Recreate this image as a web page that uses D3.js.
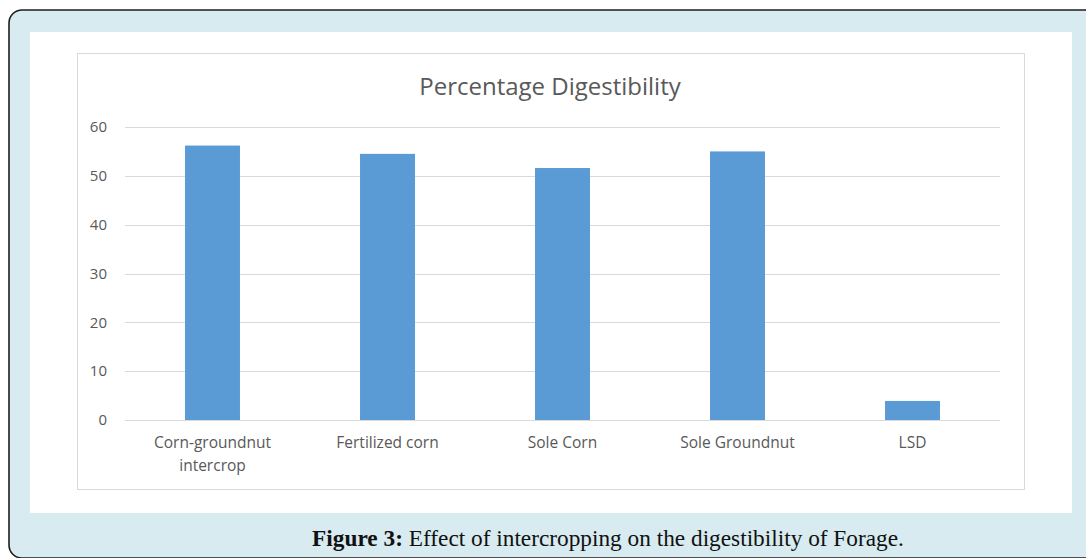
<html lang="en">
<head>
<style>
body { margin: 0; background: #fff; }
svg { display: block; }
</style>
</head>
<body>
<script src="https://d3js.org/d3.v7.min.js"></script>
<script>
// data
const categories = ["Corn-groundnut intercrop", "Fertilized corn", "Sole Corn", "Sole Groundnut", "LSD"];
const values = [56.2, 54.5, 51.6, 55.0, 3.9];
const yTicks = [0, 10, 20, 30, 40, 50, 60];
const chartTitle = "Percentage Digestibility";

const W = 1086, H = 558;
const svg = d3.select("body").append("svg")
  .attr("width", W).attr("height", H);

// outer panel
svg.append("rect")
  .attr("x", 9).attr("y", 10)
  .attr("width", 1100).attr("height", 548)
  .attr("rx", 13)
  .attr("fill", "#d7ebf0")
  .attr("stroke", "#1e1e1e")
  .attr("stroke-width", 1.6);

// white inner area
svg.append("rect")
  .attr("x", 30).attr("y", 32)
  .attr("width", 1042).attr("height", 481)
  .attr("fill", "#fff");

// chart area border
svg.append("rect")
  .attr("x", 77.5).attr("y", 53.5)
  .attr("width", 947).attr("height", 436)
  .attr("fill", "#fff")
  .attr("stroke", "#d9d9d9")
  .attr("stroke-width", 1);

const plot = {left: 125, right: 1000, top: 127, bottom: 420};

const x = d3.scaleBand()
  .domain(categories)
  .range([plot.left, plot.right])
  .paddingInner(0.686)
  .paddingOuter(0.343);

const y = d3.scaleLinear()
  .domain([0, 60])
  .range([plot.bottom, plot.top]);

// gridlines
svg.append("g")
  .selectAll("line")
  .data(yTicks)
  .join("line")
  .attr("x1", plot.left).attr("x2", plot.right)
  .attr("y1", d => Math.round(y(d)) + 0.5)
  .attr("y2", d => Math.round(y(d)) + 0.5)
  .attr("stroke", "#d9d9d9")
  .attr("stroke-width", 1);

// y axis labels
const yAxis = svg.append("g")
  .attr("transform", "translate(" + (plot.left - 18) + ",0)")
  .call(d3.axisLeft(y).tickValues(yTicks).tickSize(0).tickPadding(0));
yAxis.select(".domain").remove();
yAxis.selectAll("text")
  .attr("font-family", "'Open Sans', sans-serif")
  .attr("font-size", 15)
  .attr("fill", "#595959");

// bars
svg.append("g")
  .selectAll("rect")
  .data(categories)
  .join("rect")
  .attr("x", d => x(d))
  .attr("width", x.bandwidth())
  .attr("y", (d, i) => y(values[i]))
  .attr("height", (d, i) => y(0) - y(values[i]))
  .attr("fill", "#5b9bd5");

// x axis labels (wrapped like excel)
const xAxis = svg.append("g")
  .attr("transform", "translate(0," + plot.bottom + ")")
  .call(d3.axisBottom(x).tickSize(0).tickPadding(0));
xAxis.select(".domain").remove();
xAxis.selectAll("text").remove();
xAxis.selectAll(".tick")
  .append("text")
  .attr("text-anchor", "middle")
  .attr("font-family", "'Open Sans', sans-serif")
  .attr("font-size", 15.5)
  .attr("fill", "#595959")
  .each(function(d) {
    const lines = d === "Corn-groundnut intercrop" ? ["Corn-groundnut", "intercrop"] : [d];
    d3.select(this).selectAll("tspan")
      .data(lines)
      .join("tspan")
      .attr("x", 0)
      .attr("y", (l, i) => 28 + i * 23)
      .text(l => l);
  });

// chart title
svg.append("text")
  .attr("x", 550).attr("y", 95)
  .attr("text-anchor", "middle")
  .attr("font-family", "'Open Sans', sans-serif")
  .attr("font-size", 24)
  .attr("fill", "#595959")
  .text(chartTitle);

// figure caption
const cap = svg.append("text")
  .attr("x", 608).attr("y", 546)
  .attr("text-anchor", "middle")
  .attr("font-family", "'Liberation Serif', serif")
  .attr("font-size", 23.3)
  .attr("fill", "#111");
cap.append("tspan").attr("font-weight", "bold").text("Figure 3:");
cap.append("tspan").text(" Effect of intercropping on the digestibility of Forage.");
</script>
</body>
</html>
